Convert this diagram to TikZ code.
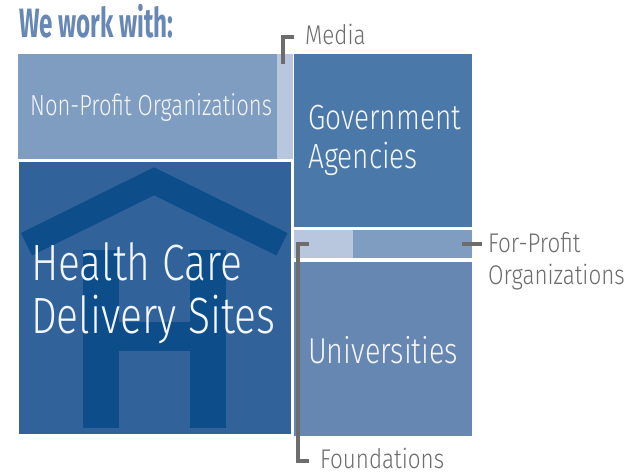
\documentclass[tikz,border=0pt]{standalone}
\usepackage{fontspec}
\newfontfamily\labfont{Fira Sans Light}[FakeStretch=0.80]
\newfontfamily\npfont{Fira Sans Light}[FakeStretch=0.76]
\newfontfamily\outfont{Fira Sans Light}[FakeStretch=0.83]
\newfontfamily\titlefont{Fira Sans}[FakeStretch=0.59]
\definecolor{npblue}{HTML}{7F9DC0}
\definecolor{paleblue}{HTML}{B8C7DD}
\definecolor{hcblue}{HTML}{31639A}
\definecolor{houseblue}{HTML}{0C4D8A}
\definecolor{govblue}{HTML}{4A78A8}
\definecolor{unblue}{HTML}{6587B2}
\definecolor{titleblue}{HTML}{6787B4}
\definecolor{leadgray}{HTML}{6D6D6D}
\definecolor{intext}{HTML}{F4F6FA}
\tikzset{
  box/.style={draw=none, inner sep=0pt, outer sep=0pt, anchor=north west},
  intxt/.style={anchor=base west, inner sep=0pt, text=intext, font=\labfont\fontsize{#1}{#1}\selectfont},
  outtxt/.style={anchor=base west, inner sep=0pt, text=leadgray, font=\outfont\fontsize{27}{27}\selectfont},
  leader/.style={draw=leadgray, line width=3.5pt, line join=miter}
}
\begin{document}
\begin{tikzpicture}[x=1pt,y=-1pt]
\useasboundingbox (0,0) rectangle (631,475);
\fill[white] (0,0) rectangle (631,475);
% title
\node[anchor=base west, inner sep=0pt, text=titleblue, font=\titlefont\bfseries\fontsize{41}{41}\selectfont] (title) at (19,37) {We work with:};
% boxes
\node[box, fill=npblue, minimum width=259pt, minimum height=105pt] (np) at (18,54) {};
\node[box, fill=paleblue, minimum width=16pt, minimum height=105pt] (media) at (277,54) {};
\node[box, fill=hcblue, minimum width=272pt, minimum height=272pt] (hc) at (19,162) {};
\node[box, fill=govblue, minimum width=178pt, minimum height=173pt] (gov) at (294,54) {};
\node[box, fill=paleblue, minimum width=59pt, minimum height=28pt] (fnd) at (294,230) {};
\node[box, fill=npblue, minimum width=119pt, minimum height=28pt] (fp) at (353,230) {};
\node[box, fill=unblue, minimum width=178pt, minimum height=174pt] (uni) at (294,262) {};
% house
\begin{scope}
\clip (hc.north west) rectangle (hc.south east);
\fill[houseblue] (21,233) -- (154,167.3) -- (287.5,233) -- (276.5,255.5) -- (154,195.3) -- (32,255.5) -- cycle;
\fill[houseblue] (83,250) rectangle (119,428);
\fill[houseblue] (190,250) rectangle (226,428);
\fill[houseblue] (119,322) rectangle (190,351);
\end{scope}
% inner texts
\node[intxt=29, font=\npfont\fontsize{29}{29}\selectfont] (nptxt) at (30,115) {Non-Profit Organizations};
\node[intxt=51] (hc1) at (31,280) {Health Care};
\node[intxt=51] (hc2) at (31,333) {Delivery Sites};
\node[intxt=35] (gov1) at (308,129) {Government};
\node[intxt=35] (gov2) at (308,168) {Agencies};
\node[intxt=36] (unitxt) at (308,363) {Universities};
% outer labels
\node[outtxt] (medialab) at (305,44) {Media};
\node[outtxt] (fplab1) at (488,252) {For-Profit};
\node[outtxt] (fplab2) at (488,284) {Organizations};
\node[outtxt] (fndlab) at (320,468) {Foundations};
% leaders
\coordinate (mA) at (283,64);
\coordinate (mB) at (294,37);
\draw[leader] (mA) |- (mB);
\coordinate (fA) at (462,244);
\coordinate (fB) at (482,244);
\draw[leader] (fA) -- (fB);
\coordinate (dA) at (309,244);
\coordinate (dB) at (309,461);
\draw[leader] (dA) -- (298,244) -- (298,461) -- (dB);
\end{tikzpicture}
\end{document}
